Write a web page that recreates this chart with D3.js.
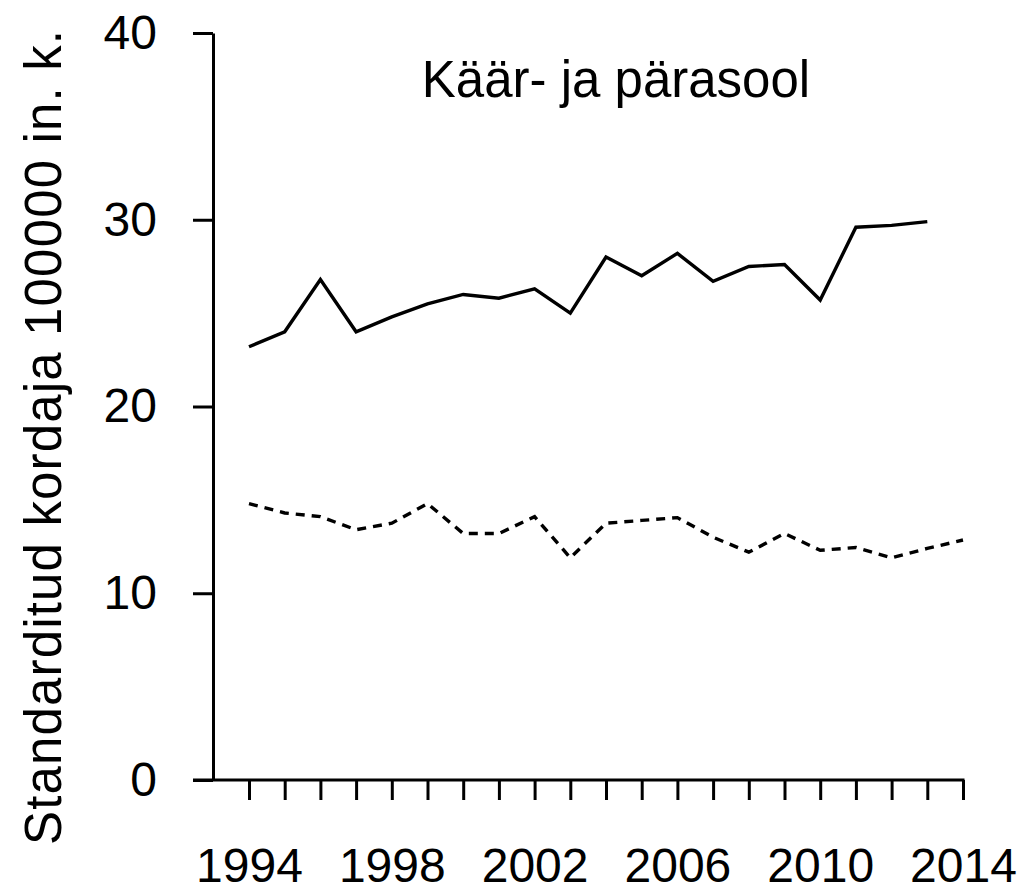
<!DOCTYPE html>
<html>
<head>
<meta charset="utf-8">
<script src="https://cdn.jsdelivr.net/npm/d3@7"></script>
<style>
  html, body { margin: 0; padding: 0; background: #fff; }
  svg { display: block; font-family: "Liberation Sans", Arial, sans-serif; }
</style>
</head>
<body>
<svg id="chart" width="1023" height="891"></svg>
<script>
// ---- data ----
const years = [1994,1995,1996,1997,1998,1999,2000,2001,2002,2003,2004,2005,2006,2007,2008,2009,2010,2011,2012,2013,2014];
const solidValues = [23.2,24.0,26.8,24.0,24.8,25.5,26.0,25.8,26.3,25.0,28.0,27.0,28.2,26.7,27.5,27.6,25.7,29.6,29.7,29.9,null];
const dashedValues = [14.8,14.3,14.1,13.4,13.75,14.8,13.2,13.2,14.1,11.9,13.75,13.9,14.05,13.0,12.2,13.2,12.3,12.45,11.9,12.4,12.85];
const yTicks = [0,10,20,30,40];
const xLabelYears = [1994,1998,2002,2006,2010,2014];
const title = "Käär- ja pärasool";
const yTitle = "Standarditud kordaja 100000 in. k.";

// ---- layout ----
const svg = d3.select("#chart");
const x = d3.scaleLinear().domain([1994, 2014]).range([249, 963]);
const y = d3.scaleLinear().domain([0, 40]).range([780, 33]);
const axisX = 213;
const sw = 3;
const lw = 3.4;

// y axis
const gy = svg.append("g").attr("transform", `translate(${axisX},0)`)
  .call(d3.axisLeft(y).tickValues(yTicks).tickSize(20).tickSizeOuter(0).tickPadding(36));
gy.select(".domain").attr("stroke", "#000").attr("stroke-width", sw);
gy.selectAll(".tick line").attr("stroke", "#000").attr("stroke-width", sw);
gy.selectAll(".tick text").attr("font-size", 48).attr("fill", "#000")
  .attr("font-family", "'Liberation Sans', Arial, sans-serif");

// x axis
const gx = svg.append("g").attr("transform", `translate(0,${y(0)})`)
  .call(d3.axisBottom(x).tickValues(years).tickSize(20).tickSizeOuter(0).tickPadding(48)
    .tickFormat(d => xLabelYears.includes(d) ? String(d) : ""));
gx.select(".domain").remove();
gx.selectAll(".tick line").attr("stroke", "#000").attr("stroke-width", sw);
gx.selectAll(".tick text").attr("font-size", 48).attr("fill", "#000")
  .attr("font-family", "'Liberation Sans', Arial, sans-serif");
svg.append("line")
  .attr("x1", axisX - 20).attr("x2", x(2014) + sw / 2)
  .attr("y1", y(0)).attr("y2", y(0))
  .attr("stroke", "#000").attr("stroke-width", sw);

// lines
const line = d3.line()
  .defined(d => d[1] != null)
  .x(d => x(d[0])).y(d => y(d[1]));

svg.append("path")
  .datum(years.map((yr, i) => [yr, solidValues[i]]))
  .attr("d", line).attr("fill", "none")
  .attr("stroke", "#000").attr("stroke-width", lw).attr("stroke-linejoin", "miter");

svg.append("path")
  .datum(years.map((yr, i) => [yr, dashedValues[i]]))
  .attr("d", line).attr("fill", "none")
  .attr("stroke", "#000").attr("stroke-width", lw)
  .attr("stroke-dasharray", "9,7");

// title
svg.append("text")
  .attr("x", 616).attr("y", 97)
  .attr("text-anchor", "middle")
  .attr("font-size", 51).attr("fill", "#000")
  .text(title);

// y axis title
svg.append("text")
  .attr("transform", "translate(61,437.5) rotate(-90)")
  .attr("text-anchor", "middle")
  .attr("font-size", 51).attr("fill", "#000")
  .attr("textLength", 815).attr("lengthAdjust", "spacing")
  .text(yTitle);
</script>
</body>
</html>
